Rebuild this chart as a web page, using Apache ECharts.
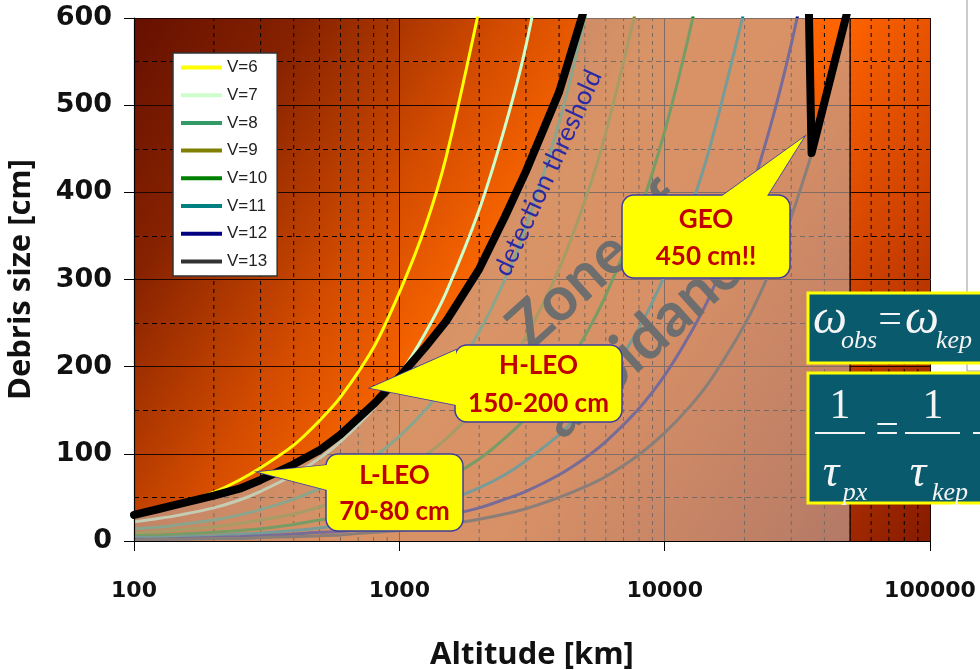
<!DOCTYPE html>
<html><head><meta charset="utf-8">
<script src="https://cdn.jsdelivr.net/npm/echarts/dist/echarts.min.js"></script>
<style>html,body{margin:0;padding:0;background:#fff}#c{width:980px;height:670px}</style>
</head><body><div id="c"></div>
<script>
// ---------------- DATA ----------------
const ALT = [100,125,150,200,250,300,400,500,600,800,1000,1250,1500,2000,2500,3000,4000,5000,6000,8000,10000,12500,15000,20000,25000,30000,35786];
const NAMES = ['V=6','V=7','V=8','V=9','V=10','V=11','V=12','V=13'];
const V6  = [30,36,43,56,70,84,110,138,165,222,285,360,440,610];
const V7  = [22,26,30,38,47,57,76,95,114,152,190,238,285,380,475,568,760];
const V8  = [14,16,19,24,30,36,48,60,72,96,120,150,180,240,300,360,480,600,720];
const V9  = [9,11,13,16,20,24,31,39,47,62,78,98,117,156,195,234,312,390,468,624];
const V10 = [6,7,8,10,12,14,19,24,28,38,47,59,71,94,118,141,188,235,282,376,470,588,705];
const V11 = [4,4,5,6,8,9,12,15,18,24,30,38,46,61,76,92,122,153,183,244,305,381,458,610];
const V12 = [2,2,3,4,5,6,8,10,11,15,19,24,29,38,48,57,76,95,114,152,190,238,285,380,475,570,680];
const V13 = [1,2,2,3,3,4,5,6,7,10,12,16,19,25,31,37,50,62,74,99,124,155,186,248,310,372,444];
const THR_ALT = [100,125,150,200,250,300,400,500,600,800,1000,1250,1500,2000,2500,3000,4000,5000,6000,8000,12000,20000,30000,34500,35786,50000];
const THR     = [30,37,43,52,60,70,88,104,122,157,188,222,252,312,372,424,515,612,720,950,1300,1600,1500,700,445,620];
const ZONE_END = 50000;
const X_TICKS = ['100','1000','10000','100000'];
const Y_TICKS = [0,100,200,300,400,500,600];

// ---------------- STYLE ----------------
const COLORS = ['#FFFF00','#CCFFCC','#339966','#808000','#008000','#008080','#000080','#333333'];
const VALS = [V6,V7,V8,V9,V10,V11,V12,V13];

const pairs = (alts, vals) => vals.map((v,i)=>[alts[i], v]);
const thrPairs = pairs(THR_ALT, THR);

const minorData = [];
[100,1000,10000].forEach(d=>{ for(let k=2;k<=9;k++){ minorData.push([k*d,0],[k*d,600],[k*d,'-']); } });

const chart = echarts.init(document.getElementById('c'), null, {renderer:'canvas'});

const curveSeries = NAMES.map((n,i)=>({
  name:n, type:'line', xAxisIndex:0, yAxisIndex:0, data:pairs(ALT, VALS[i]),
  symbol:'none', showSymbol:false, smooth:0.3, clip:true, z:2, silent:true,
  lineStyle:{color:COLORS[i], width:3}, itemStyle:{color:COLORS[i]}
}));

function callout(box, tail, lines, lineYs){
  const els = [];
  els.push({type:'polygon', z:40, shape:{points:tail}, style:{fill:'#FFFF00', stroke:'#3C3CA0', lineWidth:1.5}});
  els.push({type:'rect', z:41, shape:{x:box[0], y:box[1], width:box[2], height:box[3], r:12}, style:{fill:'#FFFF00', stroke:'#3C3CA0', lineWidth:1.5}});
  els.push({type:'polygon', z:42, shape:{points:tail}, style:{fill:'#FFFF00'}});
  lines.forEach((t,i)=>{
    els.push({type:'text', z:43, x:box[0]+box[2]/2, y:lineYs[i], style:{text:t, fill:'#C00000', font:'bold 26px Lato', textAlign:'center', textVerticalAlign:'middle', align:'center', verticalAlign:'middle'}});
  });
  return els;
}

function txt(x,y,t,font){
  return {type:'text', z:52, x:x, y:y, style:{text:t, fill:'#F4F4F4', font:font, textAlign:'center', textVerticalAlign:'middle', align:'center', verticalAlign:'middle'}};
}

const graphics = [].concat(
  [
    {type:'text', z:12, x:596, y:266, rotation:42*Math.PI/180, style:{text:'Zone of', fill:'#6E6E6E', font:'bold 62px Lato', textAlign:'center', textVerticalAlign:'middle', align:'center', verticalAlign:'middle'}},
    {type:'text', z:12, x:652, y:333, rotation:42*Math.PI/180, style:{text:'avoidance', fill:'#6E6E6E', font:'bold 62px Lato', textAlign:'center', textVerticalAlign:'middle', align:'center', verticalAlign:'middle'}},
    {type:'text', z:12, x:548, y:173, rotation:65.3*Math.PI/180, style:{text:'detection threshold', fill:'#2A2AA6', font:'26px Lato', textAlign:'center', textVerticalAlign:'middle', align:'center', verticalAlign:'middle'}}
  ],
  callout([326,454,137,77], [[258,472],[327,465],[327,490]], ['L-LEO','70-80 cm'], [476,512]),
  callout([455,345,167,77], [[370,388],[456,350],[456,405]], ['H-LEO','150-200 cm'], [366,404]),
  callout([622,195,168,83], [[804,137],[722,196],[767,196]], ['GEO','450 cm!!'], [220,257]),
  [
    {type:'rect', z:48, shape:{x:967, y:-2, width:40, height:373}, style:{fill:'#FFFFFF', stroke:'#999999', lineWidth:1}},
    {type:'rect', z:50, shape:{x:808, y:293, width:190, height:70}, style:{fill:'#0A5A6E', stroke:'#FFFF00', lineWidth:3}},
    {type:'rect', z:50, shape:{x:808, y:373, width:190, height:130}, style:{fill:'#0A5A6E', stroke:'#FFFF00', lineWidth:3}},
    txt(830,320,'ω','italic 48px "Liberation Serif"'),
    txt(859,341,'obs','italic 26px "Liberation Serif"'),
    txt(890,321,'=','42px "Liberation Serif"'),
    txt(922,320,'ω','italic 48px "Liberation Serif"'),
    txt(954,341,'kep','italic 26px "Liberation Serif"'),
    txt(840,407,'1','42px "Liberation Serif"'),
    {type:'line', z:52, shape:{x1:815,y1:433,x2:865,y2:433}, style:{stroke:'#F4F4F4', lineWidth:2}},
    txt(831,474,'τ','italic 46px "Liberation Serif"'),
    txt(855,493,'px','italic 26px "Liberation Serif"'),
    txt(887,431,'=','42px "Liberation Serif"'),
    txt(933,407,'1','42px "Liberation Serif"'),
    {type:'line', z:52, shape:{x1:905,y1:433,x2:960,y2:433}, style:{stroke:'#F4F4F4', lineWidth:2}},
    txt(918,474,'τ','italic 46px "Liberation Serif"'),
    txt(950,493,'kep','italic 26px "Liberation Serif"'),
    {type:'line', z:52, shape:{x1:973,y1:433,x2:990,y2:433}, style:{stroke:'#F4F4F4', lineWidth:2}}
  ]
);

const bg = {type:'linear', x:0, y:0, x2:1, y2:1, colorStops:[
  {offset:0, color:'#661000'},{offset:0.15, color:'#862200'},{offset:0.33, color:'#D44C00'},
  {offset:0.47, color:'#FF6A00'},{offset:0.62, color:'#FF6400'},{offset:0.8, color:'#CC4000'},{offset:1, color:'#851A00'}]};

const option = {
  animation:false,
  backgroundColor:'#ffffff',
  grid:{left:134, right:50, top:18, bottom:129, show:true, backgroundColor:bg, borderWidth:0, containLabel:false, outerBoundsMode:'none'},
  legend:{
    data:NAMES, orient:'vertical', left:173, top:53, padding:[6,10,6,6], itemGap:10.7, itemWidth:41, itemHeight:18,
    backgroundColor:'#FFFFFF', borderColor:'#333333', borderWidth:1.5, borderRadius:0,
    textStyle:{fontFamily:'Liberation Sans', fontSize:17, color:'#222'},
    lineStyle:{width:4}, itemStyle:{opacity:0, color:'rgba(0,0,0,0)', borderWidth:0}, selectedMode:false, z:20
  },
  xAxis:[
    {type:'log', logBase:10, min:100, max:100000, position:'bottom', gridIndex:0, z:0,
     axisLine:{show:false}, axisTick:{show:false}, axisLabel:{show:false},
     splitLine:{show:true, lineStyle:{color:'#1E0600', width:1}}},
    {type:'log', logBase:10, min:100, max:100000, position:'bottom', gridIndex:0, z:10,
     axisLine:{show:true, onZero:false, lineStyle:{color:'#000', width:1.2}},
     axisTick:{show:true, length:10, lineStyle:{color:'#000'}},
     axisLabel:{show:true, margin:39, fontFamily:'DejaVu Sans', fontWeight:'bold', fontSize:22, color:'#111',
       formatter:(v)=>{const s=String(Math.round(v)); return X_TICKS.indexOf(s)>=0?s:'';}},
     splitLine:{show:false},
     name:'Altitude [km]', nameLocation:'middle', nameGap:99,
     nameTextStyle:{fontFamily:'Open Sans', fontWeight:'bold', fontSize:31, color:'#111'}}
  ],
  yAxis:[
    {type:'value', min:0, max:600, interval:100, position:'left', gridIndex:0, z:0,
     axisLine:{show:false}, axisTick:{show:false}, axisLabel:{show:false},
     splitLine:{show:true, lineStyle:{color:'#1E0600', width:1}},
     minorTick:{show:false, splitNumber:2},
     minorSplitLine:{show:true, lineStyle:{color:'#000', width:1, type:[5,4]}}},
    {type:'value', min:0, max:600, interval:100, position:'left', gridIndex:0, z:10,
     axisLine:{show:true, onZero:false, lineStyle:{color:'#000', width:1.2}},
     axisTick:{show:true, length:10, lineStyle:{color:'#000'}},
     axisLabel:{show:true, margin:22, fontFamily:'DejaVu Sans', fontWeight:'bold', fontSize:27, color:'#111',
       formatter:(v)=> Y_TICKS.indexOf(Math.round(v))>=0 ? String(Math.round(v)) : ''},
     splitLine:{show:false},
     name:'Debris size [cm]', nameLocation:'middle', nameGap:97, nameRotate:90,
     nameTextStyle:{fontFamily:'Open Sans', fontWeight:'bold', fontSize:31, color:'#111'}}
  ],
  series:[
    {name:'minor-x', type:'line', xAxisIndex:0, yAxisIndex:0, data:minorData, symbol:'none', silent:true, z:1,
     lineStyle:{color:'#000', width:1, type:[4,4]}, connectNulls:false},
  ].concat(curveSeries).concat([
    {name:'zone', type:'line', xAxisIndex:0, yAxisIndex:0, data:thrPairs, symbol:'none', silent:true, clip:true, z:3,
     lineStyle:{width:0, opacity:0}, areaStyle:{color:'rgb(192,172,165)', opacity:0.62}},
    {name:'zone-edge', type:'line', xAxisIndex:0, yAxisIndex:0, data:[[ZONE_END,0],[ZONE_END,600]], symbol:'none', silent:true, z:4,
     lineStyle:{color:'#2A0800', width:1.5}},
    {name:'threshold', type:'line', xAxisIndex:0, yAxisIndex:0, data:thrPairs, symbol:'none', silent:true, clip:true, z:5,
     lineStyle:{color:'#000', width:8, join:'round', cap:'round'}}
  ]),
  graphic:graphics
};
chart.setOption(option);
</script></body></html>
